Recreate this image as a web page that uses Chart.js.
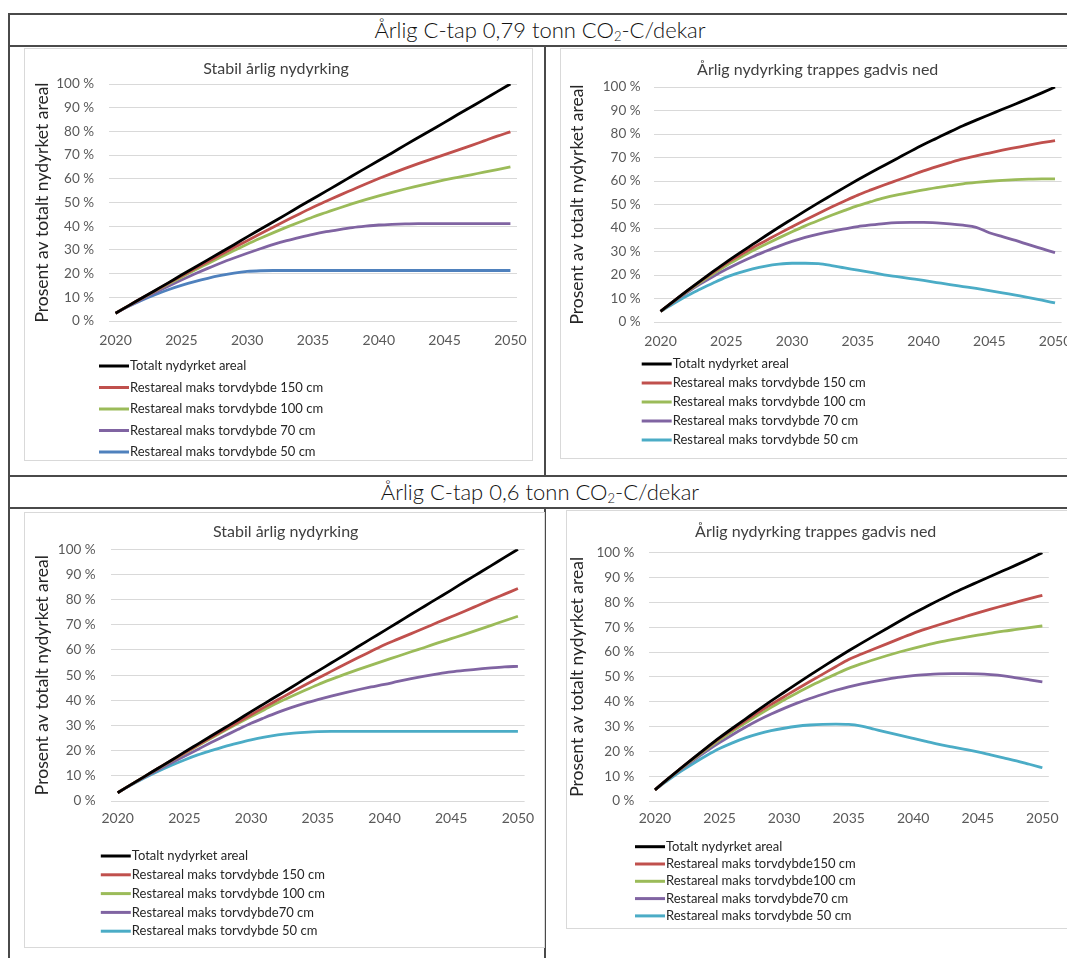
<!DOCTYPE html>
<html lang="no">
<head>
<meta charset="utf-8">
<title>Restareal etter nydyrking av myr</title>
<script src="https://cdn.jsdelivr.net/npm/chart.js@4.4.1/dist/chart.umd.min.js"></script>
<style>
  html, body { margin: 0; padding: 0; background: #fff; overflow: hidden; width: 1067px; height: 958px; }
  .rule { position: absolute; background: #4a4a4a; }
  .hdr { position: absolute; left: 9px; width: 1062px; height: 30px; line-height: 30px; text-align: center;
         font-family: Lato, "Open Sans", sans-serif; font-weight: 300; font-size: 22px; color: #111; }
  .hdr sub { font-size: 13px; vertical-align: -3px; line-height: 0; }
  .box { position: absolute; border: 1px solid #d9d9d9; box-sizing: border-box; }
  canvas { position: absolute; }
</style>
</head>
<body>

<!-- table rules -->
<div class="rule" style="left:9px;top:13px;width:1058px;height:2px"></div>
<div class="rule" style="left:9px;top:45px;width:1058px;height:2px"></div>
<div class="rule" style="left:9px;top:475px;width:1058px;height:2px"></div>
<div class="rule" style="left:9px;top:507px;width:1058px;height:2px"></div>
<div class="rule" style="left:8px;top:13px;width:2px;height:945px"></div>
<div class="rule" style="left:544px;top:45px;width:2px;height:431px"></div>
<div class="rule" style="left:544px;top:507px;width:2px;height:451px"></div>

<div class="hdr" style="top:15px">Årlig C-tap 0,79 tonn CO<sub>2</sub>-C/dekar</div>
<div class="hdr" style="top:477px">Årlig C-tap 0,6 tonn CO<sub>2</sub>-C/dekar</div>

<!-- chart frames -->
<div class="box" style="left:24px;top:48px;width:509px;height:413px"></div>
<div class="box" style="left:560px;top:48px;width:520px;height:411px"></div>
<div class="box" style="left:24px;top:512px;width:521px;height:436px"></div>
<div class="box" style="left:566px;top:510px;width:520px;height:419px"></div>

<canvas id="c1" width="508" height="412" style="left:24px;top:48px"></canvas>
<canvas id="c2" width="515" height="410" style="left:560px;top:48px"></canvas>
<canvas id="c3" width="521" height="435" style="left:24px;top:512px"></canvas>
<canvas id="c4" width="509" height="418" style="left:566px;top:510px"></canvas>

<script>
// ---- categories and tick labels ----
const years = ['2020','2021','2022','2023','2024','2025','2026','2027','2028','2029','2030',
               '2031','2032','2033','2034','2035','2036','2037','2038','2039','2040',
               '2041','2042','2043','2044','2045','2046','2047','2048','2049','2050'];
const xTickLabels = ['2020','2025','2030','2035','2040','2045','2050'];

// ---- total new-cultivated area (same for both C-loss rates) ----
const totalStabil = [3.3, 6.5, 9.7, 12.9, 16.1, 19.4, 22.6, 25.8, 29.0, 32.2, 35.5, 38.7, 41.9, 45.1, 48.4, 51.6,
                     54.8, 58.0, 61.3, 64.5, 67.7, 70.9, 74.2, 77.4, 80.6, 83.8, 87.1, 90.3, 93.5, 96.8, 100];
const totalTrapp  = [4.5, 8.9, 13.2, 17.4, 21.5, 25.5, 29.3, 33.0, 36.7, 40.3, 43.8, 47.3, 50.7, 54.0, 57.3, 60.5,
                     63.6, 66.6, 69.6, 72.6, 75.5, 78.2, 80.9, 83.5, 85.9, 88.2, 90.5, 92.8, 95.1, 97.5, 100];

// ---- 0,79 t CO2-C/daa, stable yearly cultivation ----
const s079_150 = [3.3, 6.5, 9.7, 12.8, 15.9, 19.0, 22.0, 25.0, 28.0, 31.0, 33.9, 36.8, 39.7, 42.5, 45.3, 48.0,
                  50.5, 53.0, 55.4, 57.8, 60.1, 62.3, 64.4, 66.4, 68.3, 70.2, 72.1, 74.0, 76.0, 78.0, 79.8];
const s079_100 = [3.3, 6.5, 9.6, 12.6, 15.6, 18.5, 21.4, 24.2, 27.0, 29.7, 32.4, 34.9, 37.3, 39.6, 41.8, 43.9,
                  45.8, 47.7, 49.5, 51.2, 52.8, 54.3, 55.7, 57.0, 58.3, 59.5, 60.6, 61.7, 62.8, 63.9, 65.0];
const s079_70  = [3.3, 6.3, 9.2, 12.0, 14.7, 17.3, 19.8, 22.2, 24.5, 26.6, 28.6, 30.5, 32.3, 33.9, 35.3, 36.6,
                  37.7, 38.6, 39.4, 40.0, 40.5, 40.8, 41.0, 41.1, 41.1, 41.1, 41.1, 41.1, 41.1, 41.1, 41.1];
const s079_50  = [3.3, 6.2, 8.8, 11.1, 13.2, 15.0, 16.6, 18.0, 19.2, 20.2, 20.9, 21.2, 21.3, 21.3, 21.3, 21.3,
                  21.3, 21.3, 21.3, 21.3, 21.3, 21.3, 21.3, 21.3, 21.3, 21.3, 21.3, 21.3, 21.3, 21.3, 21.3];

// ---- 0,79 t CO2-C/daa, cultivation stepped down ----
const t079_150 = [4.5, 8.9, 13.1, 17.2, 21.1, 25.0, 28.3, 31.6, 34.6, 37.6, 40.5, 43.4, 46.2, 48.9, 51.5, 54.0,
                  56.2, 58.3, 60.3, 62.3, 64.3, 66.1, 67.8, 69.4, 70.7, 71.9, 73.1, 74.2, 75.3, 76.3, 77.2];
const t079_100 = [4.5, 8.8, 12.9, 16.8, 20.5, 24.0, 27.2, 30.3, 33.1, 35.8, 38.4, 40.9, 43.2, 45.4, 47.5, 49.5,
                  51.2, 52.8, 54.1, 55.2, 56.2, 57.2, 58.0, 58.8, 59.4, 59.9, 60.3, 60.6, 60.8, 60.9, 60.9];
const t079_70  = [4.5, 8.6, 12.5, 16.1, 19.4, 22.4, 25.2, 27.8, 30.1, 32.3, 34.3, 36.0, 37.4, 38.6, 39.6, 40.6,
                  41.3, 41.9, 42.3, 42.4, 42.4, 42.2, 41.8, 41.2, 40.3, 38.0, 36.3, 34.7, 32.9, 31.2, 29.5];
const t079_50  = [4.5, 7.9, 11.1, 13.9, 16.6, 19.1, 21.0, 22.6, 23.8, 24.6, 25.0, 25.0, 24.8, 24.0, 23.0, 22.1,
                  21.1, 20.1, 19.3, 18.5, 17.7, 16.8, 15.9, 15.1, 14.3, 13.4, 12.4, 11.4, 10.4, 9.3, 8.1];

// ---- 0,6 t CO2-C/daa, stable yearly cultivation ----
const s06_150 = [3.3, 6.5, 9.7, 12.9, 16.0, 19.1, 22.2, 25.3, 28.3, 31.3, 34.3, 37.3, 40.2, 43.1, 46.0, 48.8,
                 51.5, 54.2, 56.9, 59.5, 62.1, 64.3, 66.5, 68.7, 71.0, 73.2, 75.4, 77.7, 80.0, 82.2, 84.4];
const s06_100 = [3.3, 6.5, 9.7, 12.8, 15.9, 18.9, 21.9, 24.9, 27.9, 30.8, 33.6, 36.3, 39.0, 41.5, 43.9, 46.2,
                 48.3, 50.3, 52.2, 54.0, 55.8, 57.5, 59.3, 61.0, 62.8, 64.5, 66.2, 68.0, 69.8, 71.6, 73.4];
const s06_70  = [3.3, 6.4, 9.4, 12.3, 15.1, 17.8, 20.5, 23.2, 25.8, 28.4, 30.9, 33.1, 35.2, 37.1, 38.8, 40.3,
                 41.7, 43.0, 44.2, 45.3, 46.3, 47.5, 48.6, 49.6, 50.5, 51.3, 51.9, 52.4, 52.9, 53.3, 53.5];
const s06_50  = [3.3, 6.3, 9.1, 11.7, 14.1, 16.3, 18.3, 20.0, 21.6, 23.0, 24.3, 25.4, 26.3, 26.9, 27.3, 27.6,
                 27.7, 27.7, 27.7, 27.7, 27.7, 27.7, 27.7, 27.7, 27.7, 27.7, 27.7, 27.7, 27.7, 27.7, 27.7];

// ---- 0,6 t CO2-C/daa, cultivation stepped down ----
const t06_150 = [4.5, 8.9, 13.2, 17.3, 21.3, 25.2, 28.8, 32.3, 35.7, 38.9, 42.0, 45.1, 48.1, 51.1, 54.1, 57.0,
                 59.2, 61.3, 63.4, 65.5, 67.5, 69.3, 71.0, 72.6, 74.2, 75.8, 77.3, 78.7, 80.1, 81.5, 82.8];
const t06_100 = [4.5, 8.8, 13.0, 17.0, 20.9, 24.6, 28.1, 31.4, 34.6, 37.7, 40.7, 43.5, 46.2, 48.7, 51.1, 53.4,
                 55.3, 57.0, 58.6, 60.1, 61.5, 62.8, 64.0, 65.0, 65.9, 66.8, 67.6, 68.4, 69.1, 69.8, 70.5];
const t06_70  = [4.5, 8.7, 12.7, 16.5, 20.1, 23.5, 26.7, 29.7, 32.5, 35.0, 37.3, 39.4, 41.3, 43.0, 44.6, 46.0,
                 47.2, 48.2, 49.1, 49.9, 50.5, 50.9, 51.2, 51.3, 51.3, 51.2, 50.9, 50.4, 49.6, 48.8, 48.0];
const t06_50  = [4.5, 8.3, 11.9, 15.2, 18.3, 21.1, 23.4, 25.4, 27.0, 28.3, 29.3, 30.1, 30.6, 30.9, 31.0, 30.9,
                 30.2, 28.9, 27.6, 26.4, 25.2, 24.0, 22.8, 21.8, 20.8, 19.8, 18.6, 17.4, 16.2, 14.8, 13.4];

// ---- legend texts ----
const legendA = ['Totalt nydyrket areal', 'Restareal maks torvdybde 150 cm', 'Restareal maks torvdybde 100 cm',
                 'Restareal maks torvdybde 70 cm', 'Restareal maks torvdybde 50 cm'];
const legendC = ['Totalt nydyrket areal', 'Restareal maks torvdybde 150 cm', 'Restareal maks torvdybde 100 cm',
                 'Restareal maks torvdybde70 cm', 'Restareal maks torvdybde 50 cm'];
const legendD = ['Totalt nydyrket areal', 'Restareal maks torvdybde150 cm', 'Restareal maks torvdybde100 cm',
                 'Restareal maks torvdybde70 cm', 'Restareal maks torvdybde 50 cm'];

const yAxisTitle = 'Prosent av totalt nydyrket areal';
const FONT = 'Lato, "Open Sans", sans-serif';

// chart title drawn at a set centre point
const boxTitle = {
  id: 'boxTitle',
  afterDraw(chart, args, o) {
    const ctx = chart.ctx;
    ctx.save();
    ctx.font = '16px ' + FONT;
    ctx.fillStyle = '#404040';
    ctx.textAlign = 'center';
    ctx.textBaseline = 'middle';
    ctx.fillText(o.text, o.cx, o.cy);
    ctx.restore();
  }
};

// one-per-row legend below the plot
const stackLegend = {
  id: 'stackLegend',
  afterDraw(chart, args, o) {
    const ctx = chart.ctx;
    ctx.save();
    ctx.font = '13px ' + FONT;
    ctx.textBaseline = 'middle';
    ctx.textAlign = 'left';
    chart.data.datasets.forEach((ds, i) => {
      const y = o.y + i * o.gap;
      ctx.strokeStyle = ds.borderColor;
      ctx.lineWidth = 3;
      ctx.beginPath();
      ctx.moveTo(o.x, y);
      ctx.lineTo(o.x + o.len, y);
      ctx.stroke();
      ctx.fillStyle = '#262626';
      ctx.fillText(ds.label, o.x + o.len + 1, y);
    });
    ctx.restore();
  }
};

const COLORS = ['#000000', '#c0504d', '#9bbb59', '#8064a2'];

function makeChart(id, title, series, labels, lastColor, g) {
  const colors = COLORS.concat([lastColor]);
  return new Chart(document.getElementById(id), {
    type: 'line',
    data: {
      labels: years,
      datasets: series.map((d, i) => ({
        label: labels[i], data: d, borderColor: colors[i], backgroundColor: colors[i],
        borderWidth: 2.8, pointRadius: 0, cubicInterpolationMode: 'monotone', fill: false
      }))
    },
    options: {
      responsive: false, animation: false, devicePixelRatio: 1,
      layout: { padding: { left: g.padL, right: g.padR, top: g.top, bottom: g.padB } },
      plugins: {
        legend: { display: false }, title: { display: false }, tooltip: { enabled: false },
        boxTitle: { text: title, cx: g.tx, cy: g.ty },
        stackLegend: { x: g.lx, len: 30, y: g.ly, gap: g.lgap }
      },
      scales: {
        x: {
          type: 'category', offset: true,
          grid: { display: false, drawTicks: false }, border: { display: false },
          ticks: {
            autoSkip: false, maxRotation: 0, padding: g.xPad, color: '#595959',
            font: { family: FONT, size: 14 },
            callback(v) { const l = this.getLabelForValue(v); return xTickLabels.includes(l) ? l : ''; }
          },
          afterFit(s) { s.height = 30; s.paddingLeft = 0; s.paddingRight = 0; }
        },
        y: {
          min: 0, max: 100,
          grid: { color: '#d9d9d9', lineWidth: 1, drawTicks: false }, border: { display: false },
          ticks: { stepSize: 10, padding: g.yPad, color: '#595959', font: { family: FONT, size: 13.5 },
                   callback: v => v + ' %' },
          title: { display: true, text: yAxisTitle, color: '#262626', font: { family: FONT, size: 17.5 }, padding: 0 },
          afterFit(s) { s.width = g.yW; s.paddingTop = 0; s.paddingBottom = 0; }
        }
      }
    },
    plugins: [boxTitle, stackLegend]
  });
}

makeChart('c1', 'Stabil årlig nydyrking',
  [totalStabil, s079_150, s079_100, s079_70, s079_50], legendA, '#4f81bd',
  { padL: 7.5, yW: 77.5, padR: 15, top: 36, padB: 109, yPad: 15, xPad: 11,
    tx: 252, ty: 21, lx: 75, ly: 318, lgap: 21.5 });

makeChart('c2', 'Årlig nydyrking trappes gadvis ned',
  [totalTrapp, t079_150, t079_100, t079_70, t079_50], legendA, '#4bacc6',
  { padL: 6.5, yW: 87.5, padR: 13.4, top: 39, padB: 106, yPad: 13.5, xPad: 11,
    tx: 257.7, ty: 22, lx: 81.7, ly: 316, lgap: 19 });

makeChart('c3', 'Stabil årlig nydyrking',
  [totalStabil, s06_150, s06_100, s06_70, s06_50], legendC, '#4bacc6',
  { padL: 7.9, yW: 79.1, padR: 20.4, top: 37.3, padB: 116, yPad: 15.4, xPad: 9,
    tx: 261.7, ty: 20.3, lx: 76.8, ly: 344, lgap: 18.8 });

makeChart('c4', 'Årlig nydyrking trappes gadvis ned',
  [totalTrapp, t06_150, t06_100, t06_70, t06_50], legendD, '#4bacc6',
  { padL: 0.8, yW: 81.7, padR: 26.2, top: 42.7, padB: 97, yPad: 14.2, xPad: 9,
    tx: 249.7, ty: 21.7, lx: 69, ly: 336.7, lgap: 17.3 });
</script>
</body>
</html>
